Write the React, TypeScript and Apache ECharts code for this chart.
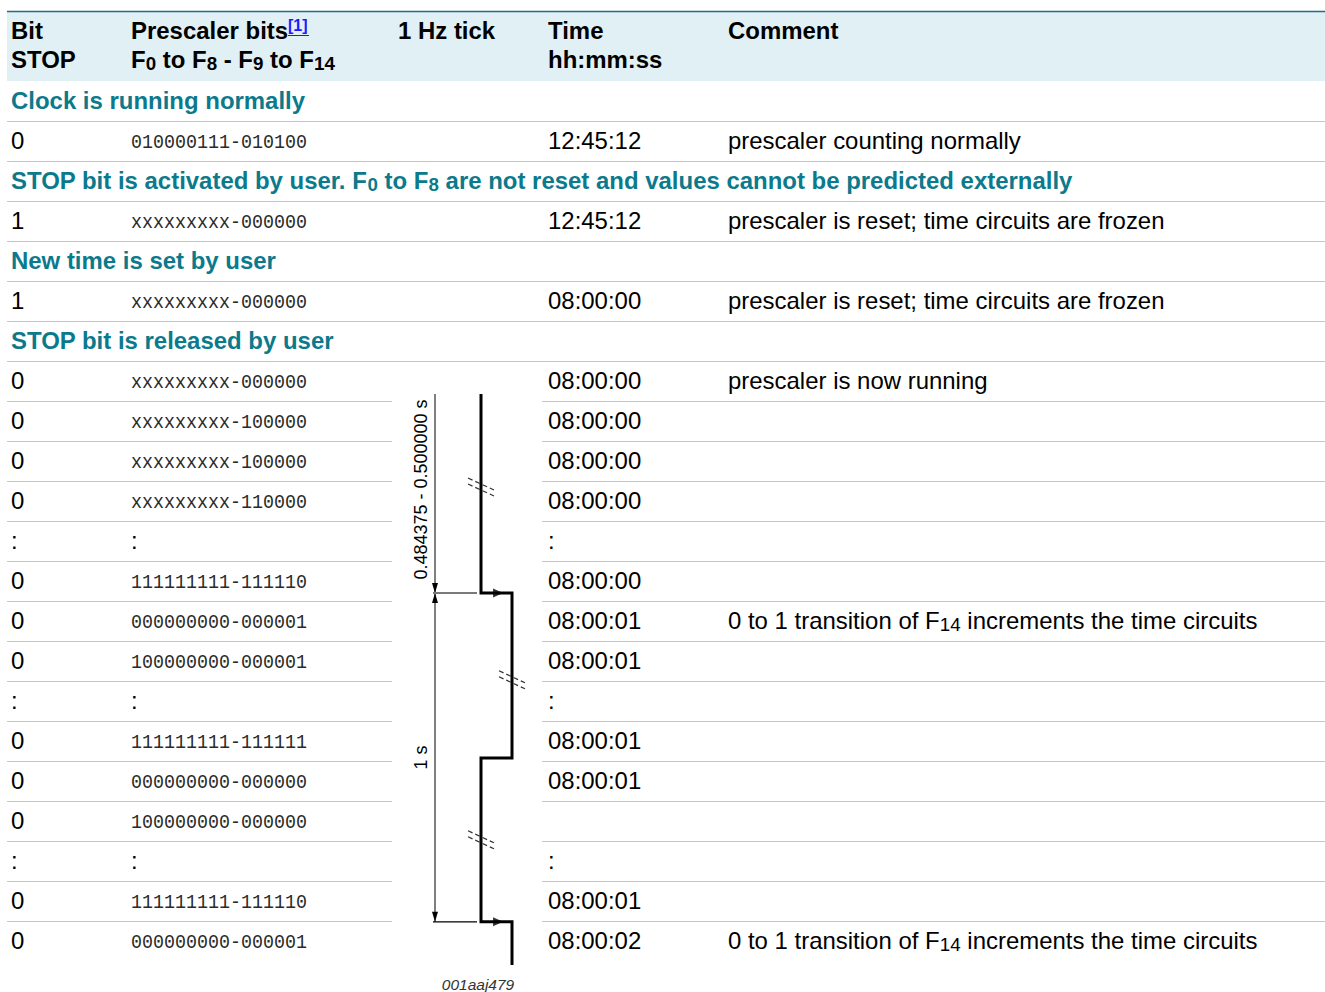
import React, { useEffect, useRef } from 'react';
import * as echarts from 'echarts';

const W = 1325;
const H = 992;
const ROW_TOP = 81;
const ROW_H = 40;
const ROW_COUNT = 22;
const FONT = '"Liberation Sans", Arial, sans-serif';
const MONO = '"Liberation Mono", "DejaVu Sans Mono", monospace';
const SX = 1.042;

// ---------- table content ----------
const columnX = [11, 131, 398, 548, 728];
const headerLine1 = ['Bit', 'Prescaler bits', '1 Hz tick', 'Time', 'Comment'];
const headerLine2 = ['STOP', '{b|F}{bs|0}{b| to F}{bs|8}{b| - F}{bs|9}{b| to F}{bs|14}', '', 'hh:mm:ss', ''];
const footnoteRef = '[1]';

const sectionRows = [0, 2, 4, 6];
const sectionTitles = [
  '{t|Clock is running normally}',
  '{t|STOP bit is activated by user. F}{ts|0}{t| to F}{ts|8}{t| are not reset and values cannot be predicted externally}',
  '{t|New time is set by user}',
  '{t|STOP bit is released by user}',
];

const dataRows = [1, 3, 5, 7, 8, 9, 10, 11, 12, 13, 14, 15, 16, 17, 18, 19, 20, 21];
const bitStop = ['0', '1', '1', '0', '0', '0', '0', ':', '0', '0', '0', ':', '0', '0', '0', ':', '0', '0'];
const prescalerBits = [
  '010000111-010100', 'xxxxxxxxx-000000', 'xxxxxxxxx-000000', 'xxxxxxxxx-000000',
  'xxxxxxxxx-100000', 'xxxxxxxxx-100000', 'xxxxxxxxx-110000', ':',
  '111111111-111110', '000000000-000001', '100000000-000001', ':',
  '111111111-111111', '000000000-000000', '100000000-000000', ':',
  '111111111-111110', '000000000-000001',
];
const times = [
  '12:45:12', '12:45:12', '08:00:00', '08:00:00', '08:00:00', '08:00:00', '08:00:00', ':',
  '08:00:00', '08:00:01', '08:00:01', ':', '08:00:01', '08:00:01', '', ':', '08:00:01', '08:00:02',
];
const transitionComment = '{n|0 to 1 transition of F}{s|14}{n| increments the time circuits}';
const comments = [
  '{n|prescaler counting normally}',
  '{n|prescaler is reset; time circuits are frozen}',
  '{n|prescaler is reset; time circuits are frozen}',
  '{n|prescaler is now running}',
  '', '', '', '', '', transitionComment, '', '', '', '', '', '', '', transitionComment,
];

// ---------- 1 Hz tick waveform (row units) ----------
const waveLevel = [0, 0, 1, 1, 0, 0, 1, 1];
const waveTime = [7.825, 12.8, 12.8, 16.925, 16.925, 21.02, 21.02, 22.1];
const edgeArrows = [[0.55, 12.8], [0.55, 21.02]];
const breakMarks = [[0, 10.15], [1, 14.97], [0, 18.97]];
const dimensionSpans = [[7.825, 12.8], [12.8, 21.02]];
const dimensionLabels = ['0.484375 - 0.500000 s', '1 s'];
const figureId = '001aaj479';

const waveRowsFrom = 7;
const tickGap = [392, 542];

const yOf = (v: number) => ROW_TOP + ROW_H * v;
const rowCenter = (r: number) => ROW_TOP + ROW_H * r + ROW_H / 2;

const richBody = {
  n: { fontFamily: FONT, fontSize: 23, fill: '#000', lineHeight: 26, verticalAlign: 'middle' },
  s: { fontFamily: FONT, fontSize: 18, fill: '#000', lineHeight: 10, verticalAlign: 'bottom' },
  b: { fontFamily: FONT, fontSize: 23, fontWeight: 'bold', fill: '#000', lineHeight: 26, verticalAlign: 'middle' },
  bs: { fontFamily: FONT, fontSize: 18, fontWeight: 'bold', fill: '#000', lineHeight: 10, verticalAlign: 'bottom' },
  t: { fontFamily: FONT, fontSize: 23, fontWeight: 'bold', fill: '#0b7a8c', lineHeight: 26, verticalAlign: 'middle' },
  ts: { fontFamily: FONT, fontSize: 18, fontWeight: 'bold', fill: '#0b7a8c', lineHeight: 10, verticalAlign: 'bottom' },
};

const mid = { verticalAlign: 'middle', textVerticalAlign: 'middle' };

function buildGraphics(): any[] {
  const g: any[] = [];
  // header
  g.push({ type: 'rect', shape: { x: 7, y: 12, width: W - 7, height: ROW_TOP - 12 }, style: { fill: '#e1f0f4' } });
  g.push({ type: 'line', shape: { x1: 7, y1: 11.5, x2: W, y2: 11.5 }, style: { stroke: '#246c86', lineWidth: 1.5 } });
  headerLine1.forEach((t, i) => {
    g.push({ type: 'text', x: columnX[i], y: 31, scaleX: SX, style: { text: t, fontFamily: FONT, fontSize: 23, fontWeight: 'bold', fill: '#000', ...mid } });
  });
  headerLine2.forEach((t, i) => {
    if (!t) return;
    g.push({ type: 'text', x: columnX[i], y: 60, scaleX: SX, style: { text: t, rich: richBody, fontFamily: FONT, fontSize: 23, fontWeight: 'bold', fill: '#000', lineHeight: 26, ...mid } });
  });
  g.push({ type: 'text', x: 288, y: 25, style: { text: footnoteRef, fontFamily: FONT, fontSize: 16, fontWeight: 'bold', fill: '#1a1aff', ...mid } });
  g.push({ type: 'line', shape: { x1: 288, y1: 35.5, x2: 309, y2: 35.5 }, style: { stroke: '#1a1aff', lineWidth: 1 } });

  // row separators
  for (let r = 0; r < ROW_COUNT - 1; r++) {
    const y = yOf(r + 1) + 0.5;
    const st = { stroke: '#a8d3d6', lineWidth: 1 };
    if (r < waveRowsFrom) {
      g.push({ type: 'line', shape: { x1: 7, y1: y, x2: W, y2: y }, style: st });
    } else {
      g.push({ type: 'line', shape: { x1: 7, y1: y, x2: tickGap[0], y2: y }, style: st });
      g.push({ type: 'line', shape: { x1: tickGap[1], y1: y, x2: W, y2: y }, style: st });
    }
  }

  // section titles
  sectionRows.forEach((r, i) => {
    g.push({ type: 'text', x: columnX[0], y: rowCenter(r), scaleX: SX, style: { text: sectionTitles[i], rich: richBody, fontFamily: FONT, fontSize: 23, lineHeight: 26, ...mid } });
  });

  // data rows
  dataRows.forEach((r, i) => {
    const cy = rowCenter(r);
    g.push({ type: 'text', x: columnX[0], y: cy, scaleX: SX, style: { text: bitStop[i], fontFamily: FONT, fontSize: 23, fill: '#000', ...mid } });
    const pb = prescalerBits[i];
    if (pb === ':') {
      g.push({ type: 'text', x: columnX[1], y: cy, scaleX: SX, style: { text: pb, fontFamily: FONT, fontSize: 23, fill: '#000', ...mid } });
    } else {
      g.push({ type: 'text', x: columnX[1], y: cy + 1.5, scaleX: 0.873, style: { text: pb, fontFamily: MONO, fontSize: 21, fill: '#2a2a2a', ...mid } });
    }
    if (times[i]) {
      g.push({ type: 'text', x: columnX[3], y: cy, scaleX: SX, style: { text: times[i], fontFamily: FONT, fontSize: 23, fill: '#000', ...mid } });
    }
    if (comments[i]) {
      g.push({ type: 'text', x: columnX[4], y: cy, scaleX: SX, style: { text: comments[i], rich: richBody, fontFamily: FONT, fontSize: 23, lineHeight: 26, ...mid } });
    }
  });

  // dimension annotations
  const dx = 435;
  dimensionSpans.forEach((span, i) => {
    const y1 = yOf(span[0]);
    const y2 = yOf(span[1]);
    g.push({ type: 'line', shape: { x1: dx, y1: y1, x2: dx, y2: y2 }, style: { stroke: '#000', lineWidth: 1 } });
    g.push({ type: 'polygon', shape: { points: [[dx, y2], [dx - 3, y2 - 10], [dx + 3, y2 - 10]] }, style: { fill: '#000' } });
    if (i > 0) {
      g.push({ type: 'polygon', shape: { points: [[dx, y1], [dx - 3, y1 + 10], [dx + 3, y1 + 10]] }, style: { fill: '#000' } });
    }
    g.push({
      type: 'text', x: 421, y: (y1 + y2) / 2 - (i === 0 ? 4 : 0), rotation: Math.PI / 2,
      style: { text: dimensionLabels[i], fontFamily: FONT, fontSize: 18, fill: '#000', align: 'center', textAlign: 'center', ...mid },
    });
  });
  g.push({ type: 'line', shape: { x1: 433, y1: yOf(dimensionSpans[0][1]), x2: 477, y2: yOf(dimensionSpans[0][1]) }, style: { stroke: '#7a7a7a', lineWidth: 2 } });
  g.push({ type: 'line', shape: { x1: 433, y1: yOf(dimensionSpans[1][1]), x2: 477, y2: yOf(dimensionSpans[1][1]) }, style: { stroke: '#000', lineWidth: 1.2 } });

  g.push({ type: 'text', x: 478, y: 984, style: { text: figureId, fontFamily: FONT, fontSize: 15.5, fontStyle: 'italic', fill: '#333', align: 'center', textAlign: 'center', ...mid } });
  return g;
}

export default function App() {
  const ref = useRef<HTMLDivElement>(null);
  useEffect(() => {
    document.body.style.margin = '0';
    document.body.style.overflow = 'hidden';
    if (!ref.current) return;
    const chart = echarts.init(ref.current, undefined, { renderer: 'svg' });
    const option: any = {
      animation: false,
      backgroundColor: '#ffffff',
      grid: { left: 481, top: ROW_TOP, width: 31, height: ROW_H * ROW_COUNT },
      xAxis: { type: 'value', min: 0, max: 1, show: false },
      yAxis: { type: 'value', min: 0, max: ROW_COUNT, inverse: true, show: false },
      graphic: { elements: buildGraphics() },
      series: [
        {
          type: 'line',
          data: waveLevel.map((l, i) => [l, waveTime[i]]),
          symbol: 'none',
          clip: false,
          lineStyle: { color: '#000', width: 3, join: 'miter', cap: 'butt' },
          z: 5,
        },
        {
          type: 'scatter',
          data: edgeArrows,
          symbol: 'triangle',
          symbolSize: [9, 10],
          symbolRotate: -90,
          itemStyle: { color: '#000' },
          clip: false,
          z: 6,
        },
        {
          type: 'custom',
          data: breakMarks,
          clip: false,
          z: 7,
          renderItem: (params: any, api: any) => {
            const p = api.coord([api.value(0), api.value(1)]);
            const mk = (off: number) => ({
              type: 'line',
              shape: { x1: p[0] - 13, y1: p[1] - 6 + off, x2: p[0] + 13, y2: p[1] + 6 + off },
              style: { stroke: '#333', lineWidth: 1.2, lineDash: [5, 3] },
            });
            return { type: 'group', children: [mk(-3), mk(3)] };
          },
        },
      ],
    };
    chart.setOption(option);
    return () => chart.dispose();
  }, []);
  return <div ref={ref} style={{ width: W, height: H }} />;
}
